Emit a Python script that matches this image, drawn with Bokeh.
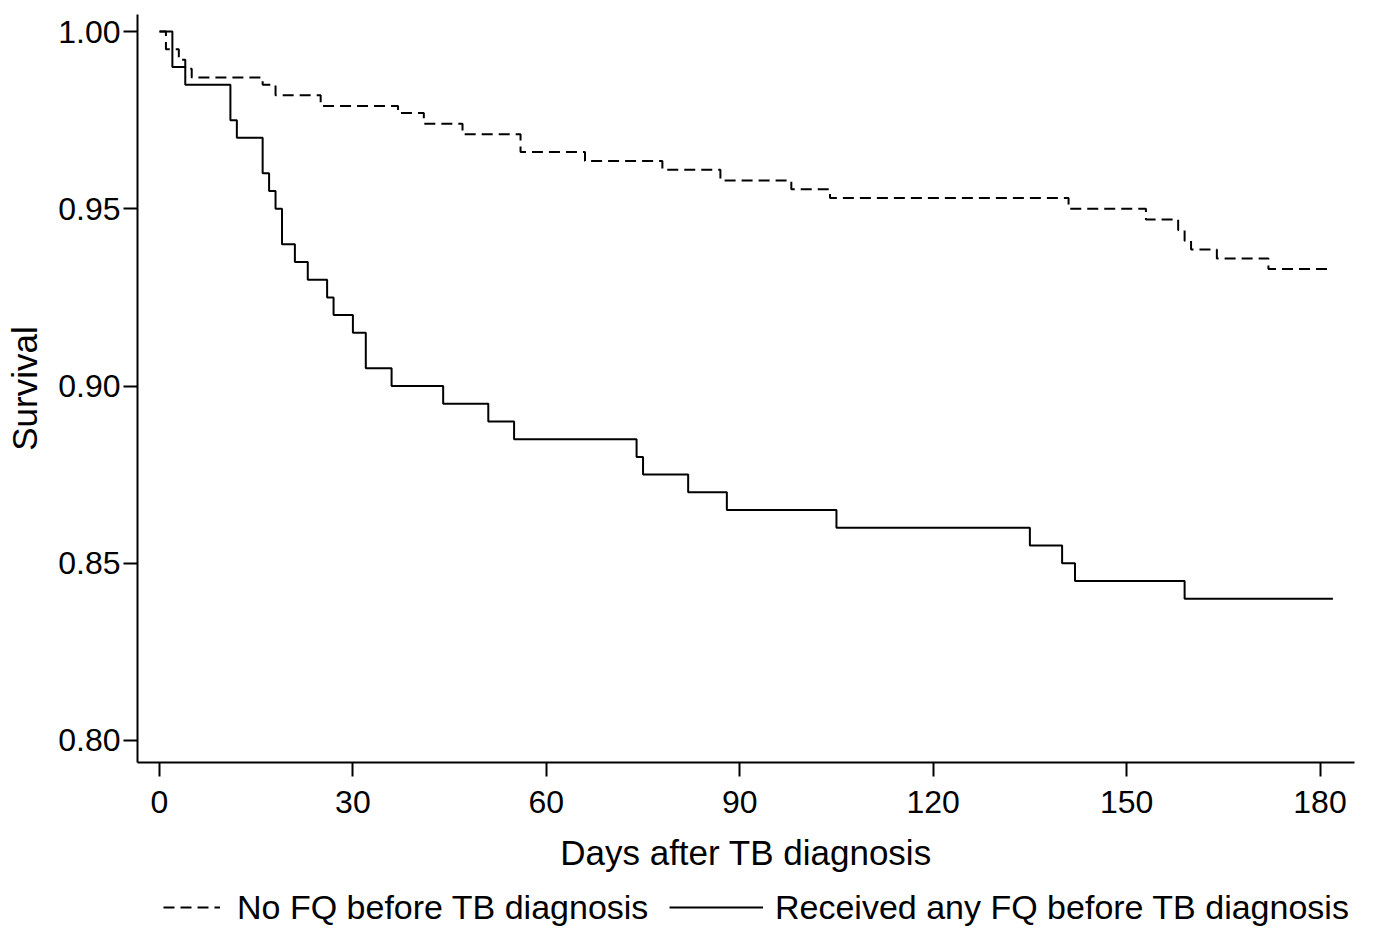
from bokeh.plotting import figure
from bokeh.layouts import column
from bokeh.models import (ColumnDataSource, FixedTicker, PrintfTickFormatter,
                          Legend, LegendItem, Range1d)
from bokeh.embed import file_html
from bokeh.resources import INLINE

# Kaplan-Meier steps
nofq_days = [0, 1, 3, 4, 5, 16, 18, 25, 37, 41, 47, 56, 66, 78, 87, 98, 104,
             141, 153, 158, 159, 160, 164, 172, 182]
nofq_surv = [1.000, 0.995, 0.992, 0.9895, 0.987, 0.985, 0.982, 0.979, 0.977,
             0.974, 0.971, 0.966, 0.9635, 0.961, 0.958, 0.9555, 0.953, 0.950,
             0.947, 0.944, 0.941, 0.9385, 0.936, 0.933, 0.933]

fq_days = [0, 2, 4, 11, 12, 16, 17, 18, 19, 21, 23, 26, 27, 30, 32, 36, 44, 51,
           55, 74, 75, 82, 88, 105, 135, 140, 142, 159, 182]
fq_surv = [1.000, 0.990, 0.985, 0.975, 0.970, 0.960, 0.955, 0.950, 0.940,
           0.935, 0.930, 0.925, 0.920, 0.915, 0.905, 0.900, 0.895, 0.890,
           0.885, 0.880, 0.875, 0.870, 0.865, 0.860, 0.855, 0.850, 0.845,
           0.840, 0.840]

x_ticks = [0, 30, 60, 90, 120, 150, 180]
y_ticks = [0.80, 0.85, 0.90, 0.95, 1.00]
labels = ["No FQ before TB diagnosis", "Received any FQ before TB diagnosis"]

FONT = "Liberation Sans"
DASH = "11 6"

p = figure(width=1374, height=880, output_backend="svg", toolbar_location=None,
           x_range=Range1d(-3.41, 185.35), y_range=Range1d(0.79379, 1.0048),
           min_border_left=137, min_border_right=20, min_border_top=14,
           min_border_bottom=118)
p.outline_line_color = None
p.grid.visible = False

src_a = ColumnDataSource(dict(x=nofq_days, y=nofq_surv))
src_b = ColumnDataSource(dict(x=fq_days, y=fq_surv))
p.step("x", "y", source=src_a, mode="after", line_color="black",
       line_width=2, line_dash=DASH)
p.step("x", "y", source=src_b, mode="after", line_color="black",
       line_width=2)

for ax in (p.xaxis[0], p.yaxis[0]):
    ax.axis_line_color = "black"
    ax.axis_line_width = 2
    ax.major_tick_line_color = "black"
    ax.major_tick_line_width = 2
    ax.major_tick_out = 14
    ax.major_tick_in = 0
    ax.minor_tick_line_color = None
    ax.major_label_text_font = FONT
    ax.major_label_text_font_size = "32px"
    ax.major_label_text_color = "black"
    ax.axis_label_text_font = FONT
    ax.axis_label_text_font_size = "35px"
    ax.axis_label_text_font_style = "normal"
    ax.axis_label_text_color = "black"

p.xaxis.ticker = FixedTicker(ticks=x_ticks)
p.yaxis.ticker = FixedTicker(ticks=y_ticks)
p.yaxis.formatter = PrintfTickFormatter(format="%.2f")
p.xaxis.axis_label = "Days after TB diagnosis"
p.yaxis.axis_label = "Survival"
p.xaxis.major_label_standoff = 14
p.yaxis.major_label_standoff = 3
p.xaxis.axis_label_standoff = 17
p.yaxis.axis_label_standoff = 11

# legend strip below the chart (its frame is aligned with the chart's frame)
lg = figure(width=1374, height=49, output_backend="svg", toolbar_location=None,
            x_axis_type=None, y_axis_type=None,
            x_range=Range1d(0, 1), y_range=Range1d(0, 1),
            min_border=0)
lg.outline_line_color = None
lg.grid.visible = False
nan = float("nan")
dummy = dict(x=[nan], y=[nan])
la = lg.line("x", "y", source=ColumnDataSource(dummy), line_color="black",
             line_width=2, line_dash=DASH)
lb = lg.line("x", "y", source=ColumnDataSource(dummy), line_color="black",
             line_width=2)

common = dict(label_text_font=FONT, label_text_font_size="34px",
              label_text_color="black", padding=0, margin=0,
              border_line_color=None, background_fill_alpha=0,
              glyph_height=40, label_height=40)
leg_a = Legend(items=[LegendItem(label=labels[0], renderers=[la])],
               location=(26, 2), glyph_width=57, label_standoff=17, **common)
leg_b = Legend(items=[LegendItem(label=labels[1], renderers=[lb])],
               location=(532, 2), glyph_width=94, label_standoff=12, **common)
lg.add_layout(leg_a, "center")
lg.add_layout(leg_b, "center")

page = column(p, lg, spacing=0)
open("out.html", "w").write(file_html(page, INLINE))
